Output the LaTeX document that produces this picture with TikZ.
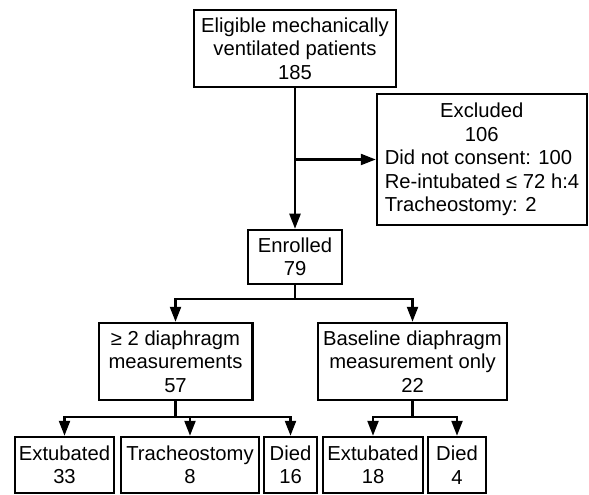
\documentclass[tikz,border=0pt]{standalone}
\usepackage{fontspec}
\setmainfont{Liberation Sans}
\usetikzlibrary{arrows.meta}
\tikzset{
  box/.style={draw, line width=2.5bp, inner sep=0pt, align=center,
    font=\fontsize{20.3}{23.6}\selectfont, fill=white},
  conn/.style={line width=2.3bp},
  arr/.style={conn, -{Triangle[length=15bp,width=11bp]}}
}
\begin{document}
\begin{tikzpicture}[x=1bp,y=-1bp]
\useasboundingbox (0,0) rectangle (589,495);
\node[box, minimum width=202bp, minimum height=77bp] (top) at (295,48.5)
  {Eligible mechanically\\ventilated patients\\185};
\node[box, minimum width=210bp, minimum height=131bp, align=left] (exc) at (482,159.5)
  {\makebox[194bp]{Excluded}\\\makebox[194bp]{106}\\Did not consent: 100\\Re-intubated ≤ 72 h:4\\Tracheostomy: 2};
\node[box, minimum width=94bp, minimum height=54bp] (enr) at (295,257)
  {Enrolled\\79};
\node[box, minimum width=153.5bp, minimum height=77bp] (ml) at (175.5,361.5)
  {≥ 2 diaphragm\\measurements\\57};
\node[box, minimum width=189bp, minimum height=77bp] (mr) at (412.5,361.5)
  {Baseline diaphragm\\measurement only\\22};
\node[box, minimum width=99bp, minimum height=56bp] (e1) at (64.5,465) {Extubated\\33};
\node[box, minimum width=138bp, minimum height=56bp] (tr) at (190,465) {Tracheostomy\\8};
\node[box, minimum width=53bp, minimum height=56bp] (d1) at (290.5,465) {Died\\16};
\node[box, minimum width=100bp, minimum height=56bp] (e2) at (373,465) {Extubated\\18};
\node[box, minimum width=58bp, minimum height=56bp] (d2) at (457,465) {Died\\4};
% connectors
\draw[arr] (top.south) -- (enr.north);
\draw[arr] (top.south |- exc.west) -- (exc.west);
\coordinate (b1) at (295,299);
\draw[conn] (enr.south) -- (b1);
\draw[arr] (b1) -| (ml.north);
\draw[arr] (b1) -| (mr.north);
\coordinate (b2) at (175.5,417);
\draw[conn] (ml.south) -- (b2);
\draw[arr] (b2) -| (e1.north);
\draw[arr] (b2) -| (tr.north);
\draw[arr] (b2) -| (d1.north);
\coordinate (b3) at (412.5,417);
\draw[conn] (mr.south) -- (b3);
\draw[arr] (b3) -| (e2.north);
\draw[arr] (b3) -| (d2.north);
\end{tikzpicture}
\end{document}
